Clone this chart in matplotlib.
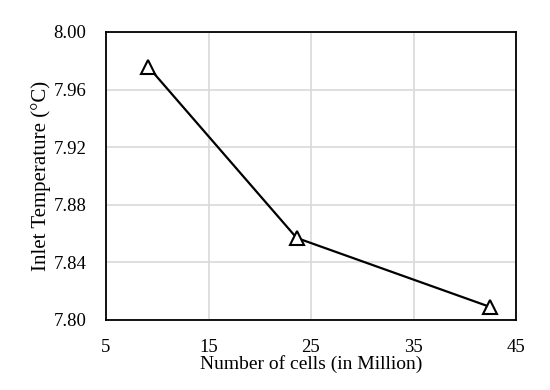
import matplotlib
matplotlib.use("Agg")
import matplotlib.pyplot as plt

# mesh size vs inlet temperature
cells = [9.1, 23.6, 42.5]
temp = [7.976, 7.857, 7.809]
xticks = [5, 15, 25, 35, 45]
yticks = [7.80, 7.84, 7.88, 7.92, 7.96, 8.00]

plt.rcParams["font.family"] = ["Liberation Serif", "DejaVu Serif"]
plt.rcParams["font.size"] = 13.5

fig = plt.figure(figsize=(5.5, 3.9), dpi=100)
ax = fig.add_axes([106 / 550, 1 - 320 / 390, 410 / 550, 288 / 390])

ax.plot(cells, temp, color="black", lw=1.6, marker="^", ms=10,
        mfc="white", mec="black", mew=1.5, zorder=3)

ax.set_xlim(5, 45)
ax.set_ylim(7.80, 8.00)
ax.set_xticks(xticks)
ax.set_yticks(yticks)
ax.set_yticklabels([f"{v:.2f}" for v in yticks])
ax.grid(True, color="#d9d9d9", lw=1.2)
ax.set_axisbelow(True)
ax.tick_params(axis="x", length=0, pad=14)
ax.tick_params(axis="y", length=0, pad=14)
for s in ax.spines.values():
    s.set_color("black")
    s.set_linewidth(1.3)

ax.set_xlabel("Number of cells (in Million)", labelpad=-1, fontsize=14)
ax.set_ylabel("Inlet Temperature (°C)", labelpad=2, fontsize=15)

fig.savefig("out.png", dpi=100)
